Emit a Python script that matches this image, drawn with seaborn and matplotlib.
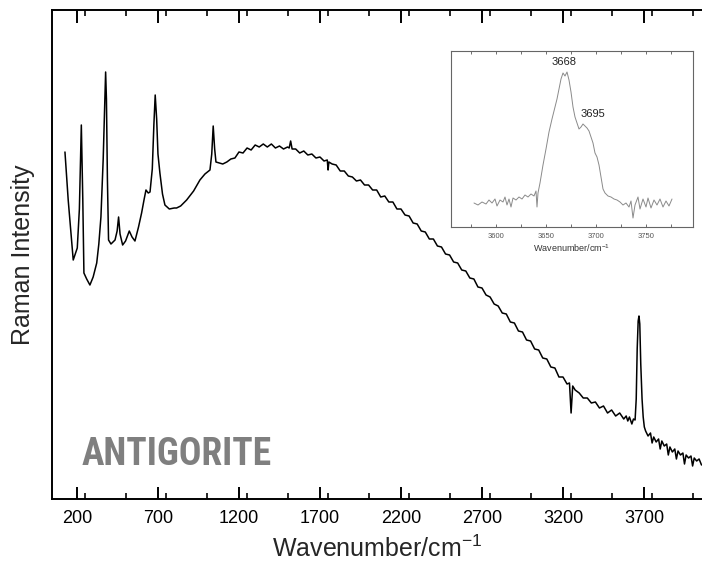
import numpy as np
import pandas as pd
import matplotlib
matplotlib.use("Agg")
import matplotlib.pyplot as plt
import seaborn as sns
from matplotlib.ticker import MultipleLocator, NullLocator

# === Raman spectrum of antigorite ===
wavenumber = [
    126, 146, 177, 202, 215, 227, 236, 243, 260, 280, 300, 322, 335, 348, 362,
    372, 377, 382, 388, 395, 410, 435, 448, 457, 466, 482, 500, 523, 540, 558,
    580, 599, 615, 626, 640, 651, 665, 675, 683, 692, 700, 712, 728, 743, 770,
    800, 815, 840, 877, 920, 959, 990, 1021, 1032, 1041, 1050, 1058, 1080, 1100,
    1125, 1150, 1175, 1200, 1225, 1250, 1275, 1300, 1325, 1350, 1375, 1400, 1425,
    1450, 1475, 1500, 1510, 1519, 1528, 1550, 1575, 1600, 1625, 1650, 1675, 1700,
    1725, 1745, 1750, 1755, 1775, 1800, 1825, 1850, 1875, 1900, 1925, 1950, 1975,
    2000, 2025, 2050, 2075, 2100, 2125, 2150, 2175, 2200, 2225, 2250, 2275, 2300,
    2325, 2350, 2375, 2400, 2425, 2450, 2475, 2500, 2525, 2550, 2575, 2600, 2625,
    2650, 2675, 2700, 2725, 2750, 2775, 2800, 2825, 2850, 2875, 2900, 2925, 2950,
    2975, 3000, 3025, 3050, 3075, 3100, 3125, 3150, 3175, 3200, 3225, 3240, 3250,
    3260, 3275, 3300, 3325, 3350, 3375, 3400, 3425, 3450, 3475, 3500, 3525, 3550,
    3575, 3590, 3600, 3610, 3625, 3635, 3645, 3652, 3658, 3664, 3669, 3674, 3680,
    3688, 3695, 3702, 3710, 3725, 3740, 3750, 3760, 3775, 3790, 3800, 3810, 3825,
    3840, 3850, 3860, 3875, 3890, 3900, 3910, 3925, 3940, 3950, 3960, 3975, 3990,
    4000, 4010, 4025, 4040, 4055,
]
intensity = [
    347, 299, 239, 251, 290, 374, 300, 226, 220, 214, 222, 236, 255, 282, 340,
    400, 427, 400, 320, 259, 255, 259, 268, 282, 265, 254, 258, 268, 262, 258,
    272, 286, 300, 309, 306, 307, 330, 375, 404, 380, 345, 326, 305, 294, 290,
    291, 291, 293, 299, 308, 319, 325, 329, 345, 373, 350, 337, 336, 335,
    337, 340, 341, 347, 346, 351, 349, 354, 352, 355, 352, 355, 351,
    353, 350, 352, 351, 358, 350, 350, 346, 348, 344, 345, 341, 342,
    338, 339, 329, 337, 335, 334, 328, 328, 323, 322, 318, 319, 314,
    314, 309, 309, 302, 303, 297, 297, 290, 290, 284, 283, 276, 275,
    268, 267, 260, 260, 253, 252, 245, 244, 237, 236, 229, 228, 221,
    220, 212, 211, 204, 202, 195, 193, 186, 185, 177, 176, 168, 167,
    159, 158, 150, 149, 141, 140, 132, 131, 122, 122, 115, 116, 86,
    113, 109, 106, 101, 101, 96, 97, 91, 93, 86, 89, 83, 86,
    80, 83, 78, 82, 75, 80, 79, 100, 150, 178, 183, 175, 135,
    100, 82, 72, 68, 63, 66, 56, 62, 57, 60, 50, 58, 53,
    55, 44, 52, 47, 50, 40, 48, 44, 46, 35, 44, 41, 43,
    33, 41, 38, 40, 34,
]

# === OH-stretching region (inset) ===
inset_wavenumber = [
    3578, 3582, 3586, 3590, 3593, 3596, 3599, 3601, 3604, 3607, 3609, 3611, 3613,
    3615, 3617, 3620, 3623, 3626, 3629, 3632, 3635, 3638, 3640, 3641, 3642, 3644,
    3647, 3650, 3653, 3656, 3659, 3661, 3663, 3665, 3667, 3669, 3671, 3673, 3675,
    3677, 3679, 3681, 3683, 3685, 3687, 3689, 3691, 3693, 3695, 3697, 3699, 3701,
    3703, 3705, 3707, 3709, 3712, 3715, 3718, 3721, 3724, 3727, 3730, 3733, 3735,
    3737, 3739, 3742, 3744, 3747, 3750, 3752, 3755, 3758, 3761, 3764, 3767, 3770,
    3773, 3776,
]
inset_intensity = [
    24, 22, 25, 23, 27, 24, 28, 21, 27, 25, 30, 22, 28,
    20, 29, 27, 30, 28, 32, 30, 33, 31, 36, 20, 34, 44,
    62, 78, 95, 108, 120, 128, 138, 148, 154, 151, 155, 147, 135,
    120, 110, 104, 98, 100, 103, 101, 99, 96, 90, 84, 74, 70,
    62, 50, 38, 34, 31, 30, 28, 27, 25, 22, 24, 20, 26,
    9, 22, 30, 18, 28, 20, 29, 19, 27, 22, 28, 20, 26,
    21, 28,
]
peak_labels = ["3668", "3695"]
peak_label_x = [3668, 3697]
peak_label_y = [160, 108]

main_xticks = [200, 700, 1200, 1700, 2200, 2700, 3200, 3700]
inset_xticks = [3600, 3650, 3700, 3750]

spec = pd.DataFrame({"Wavenumber": wavenumber, "Intensity": intensity})
oh = pd.DataFrame({"Wavenumber": inset_wavenumber, "Intensity": inset_intensity})

sns.set_theme(style="ticks")
plt.rcParams["font.family"] = ["Liberation Sans", "DejaVu Sans"]
plt.rcParams["mathtext.fontset"] = "custom"
plt.rcParams["mathtext.rm"] = "Liberation Sans"

fig = plt.figure(figsize=(7.02, 5.70), dpi=100)
ax = fig.add_axes([52 / 702, 71 / 570, 650 / 702, 489 / 570])

sns.lineplot(data=spec, x="Wavenumber", y="Intensity", ax=ax, color="black",
             linewidth=1.1, estimator=None, sort=False)
ax.set_xlim(46, 4058)
ax.set_ylim(0, 489)
ax.set_xticks(main_xticks)
ax.xaxis.set_minor_locator(MultipleLocator(250))
ax.yaxis.set_major_locator(NullLocator())
ax.tick_params(axis="x", which="major", direction="in", length=9, width=1.4,
               top=True, labelsize=13, pad=8, colors="black")
ax.tick_params(axis="x", which="minor", direction="in", length=4.5, width=1.4, top=True)
for side in ["left", "bottom", "top"]:
    ax.spines[side].set_linewidth(1.4)
    ax.spines[side].set_color("black")
ax.spines["right"].set_visible(False)
ax.set_xlabel(r"Wavenumber/cm$\mathregular{^{-1}}$", fontsize=18, labelpad=6)
ax.set_ylabel("Raman Intensity", fontsize=18, labelpad=12)
ax.text(82 / 702, (570 - 465) / 570, "ANTIGORITE", transform=fig.transFigure,
        family=["Roboto Condensed", "Barlow Condensed", "Archivo Narrow",
                "PT Sans Narrow", "Liberation Sans Narrow", "Liberation Sans"],
        fontweight="bold", fontsize=27, color="#7f7f7f", ha="left", va="baseline")

# inset
axin = fig.add_axes([451 / 702, (570 - 227) / 570, 242 / 702, 176 / 570])
sns.lineplot(data=oh, x="Wavenumber", y="Intensity", ax=axin, color="#8a8a8a",
             linewidth=0.7, estimator=None, sort=False)
axin.set_xlim(3555, 3797)
axin.set_ylim(0, 176)
axin.set_xticks(inset_xticks)
axin.xaxis.set_minor_locator(MultipleLocator(25))
axin.yaxis.set_major_locator(NullLocator())
axin.tick_params(axis="x", which="both", direction="in", length=2.5, width=0.6,
                 top=True, labelsize=5.5, pad=4, colors="#555555")
for side in axin.spines.values():
    side.set_linewidth(0.8)
    side.set_color("#666666")
axin.set_xlabel(r"Wavenumber/cm$\mathregular{^{-1}}$", fontsize=6.5, labelpad=2,
                color="#333333")
axin.set_ylabel("")
for lab, px, py in zip(peak_labels, peak_label_x, peak_label_y):
    axin.text(px, py, lab, fontsize=8, ha="center", va="bottom", color="#222222")

fig.savefig("out.png", dpi=100)
